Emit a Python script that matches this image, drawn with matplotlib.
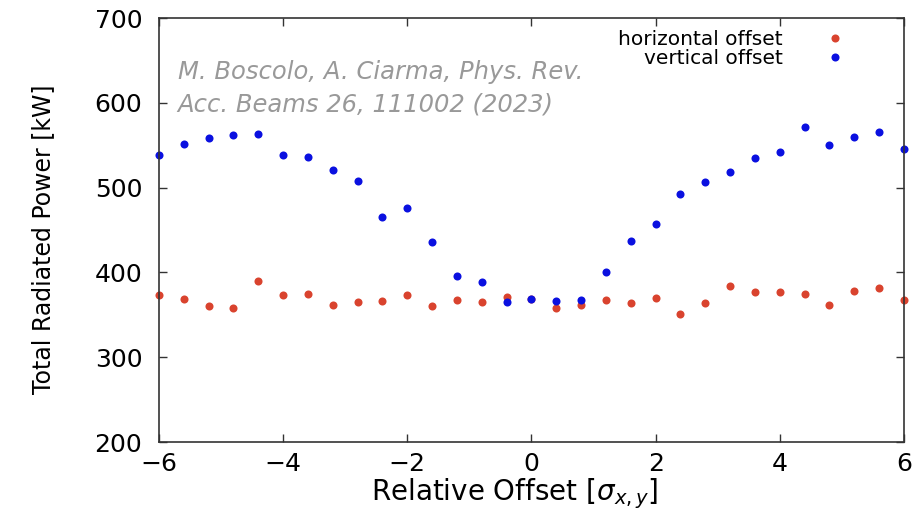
import numpy as np
import matplotlib.pyplot as plt

plt.rcParams['font.family'] = ['DejaVu Sans']
plt.rcParams['mathtext.fontset'] = 'dejavusans'

# offset en unidades de sigma
offset = [-6.0, -5.6, -5.2, -4.8, -4.4, -4.0, -3.6, -3.2, -2.8, -2.4, -2.0,
          -1.6, -1.2, -0.8, -0.4, 0.0, 0.4, 0.8, 1.2, 1.6, 2.0, 2.4, 2.8,
          3.2, 3.6, 4.0, 4.4, 4.8, 5.2, 5.6, 6.0]

potencia_horizontal = [373, 369, 360, 358, 390, 373, 374, 361, 365, 366, 373,
                       360, 368, 365, 371, 369, 358, 362, 368, 364, 370, 351,
                       364, 384, 377, 377, 374, 362, 378, 382, 367]

potencia_vertical = [538, 552, 558, 562, 563, 538, 536, 521, 508, 465, 476,
                     436, 396, 389, 365, 369, 366, 367, 400, 437, 457, 492,
                     507, 519, 535, 542, 571, 550, 560, 566, 546]

fig = plt.figure(figsize=(9.2, 5.16), dpi=100)
ax = fig.add_axes([0.1728, 0.1434, 0.8098, 0.8216])

ax.plot(offset, potencia_horizontal, 'o', color='#d9432e', markersize=5.8,
        markeredgewidth=0, label='horizontal offset', clip_on=False)
ax.plot(offset, potencia_vertical, 'o', color='#0a10e0', markersize=5.8,
        markeredgewidth=0, label='vertical offset', clip_on=False)

ax.set_xlim(-6, 6)
ax.set_ylim(200, 700)
ax.set_xticks(np.arange(-6, 7, 2))
ax.set_yticks(np.arange(200, 701, 100))
ax.set_xticklabels(['\u22126', '\u22124', '\u22122', '0', '2', '4', '6'])
ax.tick_params(direction='in', top=True, right=True, length=6, width=1,
               labelsize=18, color='#333333')
ax.tick_params(axis='y', pad=12)
ax.tick_params(axis='x', pad=7)
for s in ax.spines.values():
    s.set_linewidth(1.2)
    s.set_color('#333333')

ax.set_xlabel(r'Relative Offset [$\sigma_{x,y}$]', fontsize=20)
ax.set_ylabel('Total Radiated Power [kW]', fontsize=17)
ax.xaxis.set_label_coords(0.478, -0.08)
ax.yaxis.set_label_coords(-0.139, 0.478)

leg = ax.legend(loc='upper right', frameon=False, fontsize=14.5, markerfirst=False,
                handlelength=1.0, handletextpad=2.1, labelspacing=0.0,
                borderaxespad=0.2, bbox_to_anchor=(0.937, 1.0))
for t in leg.get_texts():
    t.set_ha('right')

ax.text(0.025, 0.856, 'M. Boscolo, A. Ciarma, Phys. Rev.',
        transform=ax.transAxes, fontsize=17.5, style='italic', color='#999999',
        va='baseline', ha='left')
ax.text(0.025, 0.779, 'Acc. Beams 26, 111002 (2023)',
        transform=ax.transAxes, fontsize=17.5, style='italic', color='#999999',
        va='baseline', ha='left')

plt.savefig('out.png', dpi=100)
